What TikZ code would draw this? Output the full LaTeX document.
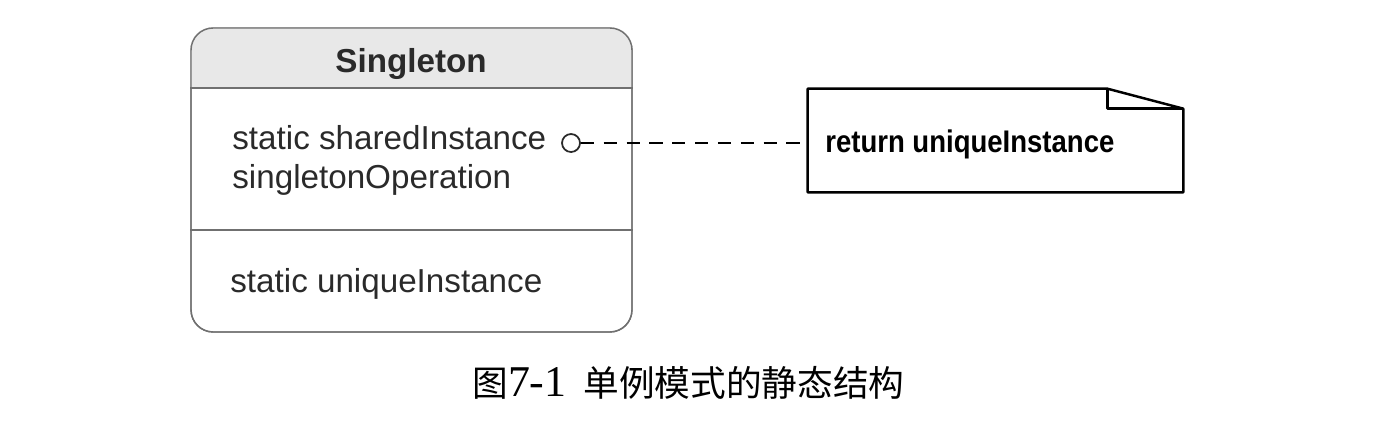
\documentclass[tikz,border=0pt]{standalone}
\usepackage{fontspec}
\setmainfont{Liberation Sans}
\newfontfamily\cjk{Noto Sans CJK SC}
\newfontfamily\capserif{Liberation Serif}
\newfontfamily\notefont[FakeStretch=0.88]{Liberation Sans Bold}
\usepackage{tikz}
\definecolor{boxgray}{HTML}{707070}
\definecolor{textgray}{HTML}{2A2A2A}
\definecolor{headgray}{HTML}{E8E8E8}
\tikzstyle{class_box} = [draw=boxgray, line width=0.8pt, rounded corners=0.44cm, minimum width=8.82cm, minimum height=6.08cm, inner sep=0pt]
\tikzstyle{class_line} = [draw=boxgray, line width=0.8pt]
\tikzstyle{class_text} = [text=textgray, font=\fontsize{18.9}{22}\selectfont, inner sep=0pt]
\tikzstyle{class_title} = [text=textgray, font=\fontsize{18.9}{22}\selectfont\bfseries, inner sep=0pt]
\tikzstyle{port_circle} = [circle, draw=textgray, line width=1pt, minimum size=0.36cm, inner sep=0pt]
\tikzstyle{note_box} = [minimum width=7.5cm, minimum height=2.06cm, inner sep=0pt]
\tikzstyle{note_line} = [draw=black, line width=1.4pt, line join=round]
\tikzstyle{note_text} = [font=\fontsize{17.8}{21}\notefont, inner sep=0pt]
\tikzstyle{link_dashed} = [draw=black, line width=1.4pt, dash pattern=on 7.5pt off 5.5pt]

\begin{document}
\begin{tikzpicture}[x=0.02cm, y=-0.02cm]
\useasboundingbox (0,0) rectangle (1382,440);
% class box
\node (S) at (411.5,180) [class_box] {};
\begin{scope}
\clip[rounded corners=0.44cm] (S.south west) rectangle (S.north east);
\fill[headgray] (S.north west) rectangle (S.east |- 0,88);
\end{scope}
\node (S2) at (411.5,180) [class_box] {};
\draw[class_line] (S.west |- 0,88) -- (S.east |- 0,88);
\draw[class_line] (S.west |- 0,230) -- (S.east |- 0,230);
\node (T) at (411,72) [class_title, anchor=base] {Singleton};
\node (O1) at (232,149) [class_text, anchor=base west] {static sharedInstance};
\node (O2) at (232,188) [class_text, anchor=base west] {singletonOperation};
\node (A1) at (230,292) [class_text, anchor=base west] {static uniqueInstance};
\node (P) at (571,143) [port_circle] {};
% note
\node (N) at (995.5,140.5) [note_box] {};
\draw[note_line] (N.south west) -- (N.north west) -- ([xshift=-1.52cm]N.north east)
  -- ([yshift=-0.4cm]N.north east) -- (N.south east) -- cycle;
\draw[note_line] ([xshift=-1.52cm]N.north east) |- ([yshift=-0.4cm]N.north east);
\node (NT) at (825,152) [note_text, anchor=base west] {return uniqueInstance};
\draw[link_dashed] (P.east) -- (N.west |- P.east);
% caption
\node (C) at (472,383) [anchor=west, inner sep=0pt, font=\fontsize{20.3}{25}\selectfont] {{\cjk 图}{\capserif\fontsize{25}{28}\selectfont 7-1}\hspace{0.47em}{\cjk 单例模式的静态结构}};
\end{tikzpicture}
\end{document}
